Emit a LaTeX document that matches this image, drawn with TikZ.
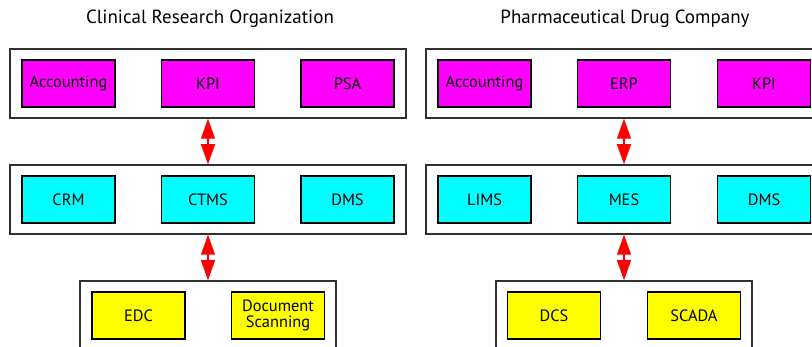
\documentclass[tikz,border=0pt]{standalone}
\usepackage{fontspec}
\setmainfont{PT Sans}
\usetikzlibrary{arrows.meta}
\definecolor{mag}{HTML}{FF00FF}
\definecolor{cy}{HTML}{00FFFF}
\definecolor{ye}{HTML}{FFFF00}
\definecolor{frame}{HTML}{303030}
\tikzset{
  sysbox/.style={draw=black, line width=1.5pt, minimum width=93pt, minimum height=47pt, inner sep=1pt, align=center, font=\fontsize{16.4}{17}\selectfont},
  topbox/.style={sysbox, fill=mag},
  midbox/.style={sysbox, fill=cy},
  lowbox/.style={sysbox, fill=ye},
  layerbox/.style={draw=frame, line width=1.5pt, fill=white, minimum width=396pt, minimum height=69pt, inner sep=0pt},
  lowlayer/.style={layerbox, minimum width=256pt},
  ttl/.style={font=\fontsize{19}{21}\selectfont},
  link/.style={draw=red, fill=red, line width=1.2pt, {Triangle[width=14pt,length=20pt]}-{Triangle[width=14pt,length=20pt]}}
}
\begin{document}
\begin{tikzpicture}[x=1pt,y=-1pt]
\useasboundingbox (0,0) rectangle (812,347);
\clip (0,0) rectangle (812,347);
\fill[white] (0,0) rectangle (812,347);
% titles
\node[ttl] (t1) at (210,19) {Clinical Research Organization};
\node[ttl] (t2) at (625,19) {Pharmaceutical Drug Company};
% left layers
\node[layerbox] (l1) at (208,83.5) {};
\node[layerbox] (l2) at (208,199.5) {};
\node[lowlayer] (l3) at (208,315.5) {};
\node[topbox] (lacc) at (68.5,83.5) {Accounting};
\node[topbox] (lkpi) at (208,83.5) {KPI};
\node[topbox] (lpsa) at (347.5,83.5) {PSA};
\node[midbox] (lcrm) at (68.5,199.5) {CRM};
\node[midbox] (lctms) at (208,199.5) {CTMS};
\node[midbox] (ldms) at (347.5,199.5) {DMS};
\node[lowbox] (ledc) at (138.5,315.5) {EDC};
\node[lowbox] (ldoc) at (278,315.5) {Document\\[-1pt]Scanning};
% right layers
\node[layerbox] (r1) at (624,83.5) {};
\node[layerbox] (r2) at (624,199.5) {};
\node[lowlayer] (r3) at (624,315.5) {};
\node[topbox] (racc) at (484.5,83.5) {Accounting};
\node[topbox] (rerp) at (624,83.5) {ERP};
\node[topbox] (rkpi) at (764,83.5) {KPI};
\node[midbox] (rlims) at (484.5,199.5) {LIMS};
\node[midbox] (rmes) at (624,199.5) {MES};
\node[midbox] (rdms) at (764,199.5) {DMS};
\node[lowbox] (rdcs) at (554,315.5) {DCS};
\node[lowbox] (rscada) at (694,315.5) {SCADA};
% connectors
\draw[link] (l1.south) -- (l2.north);
\draw[link] (l2.south) -- (l3.north);
\draw[link] (r1.south) -- (r2.north);
\draw[link] (r2.south) -- (r3.north);
\end{tikzpicture}
\end{document}
